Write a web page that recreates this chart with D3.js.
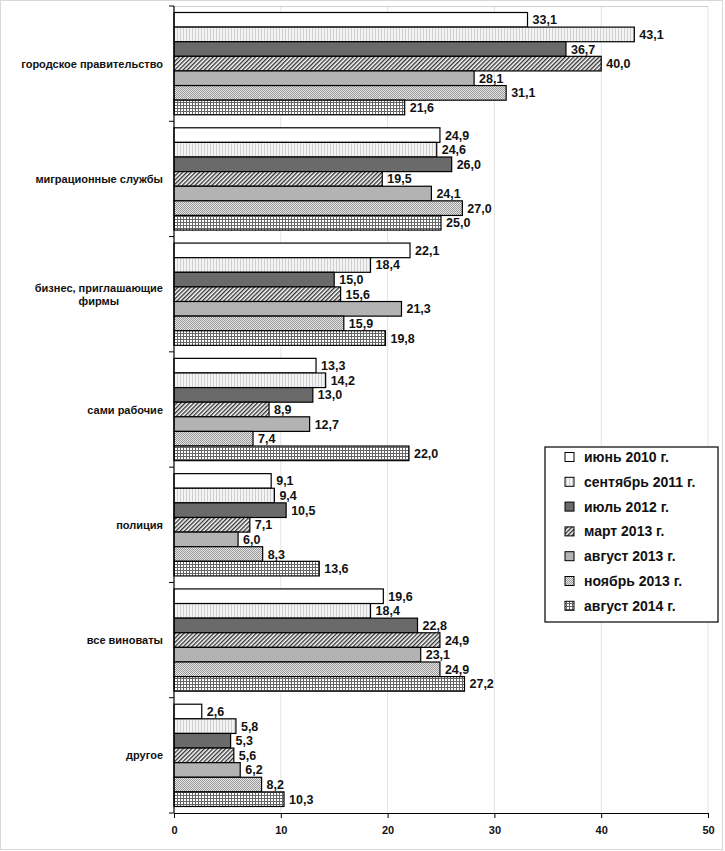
<!DOCTYPE html>
<html>
<head>
<meta charset="utf-8">
<script src="https://cdn.jsdelivr.net/npm/d3@7"></script>
<style>
  body { margin: 0; background: #fff; }
  text { font-family: "Liberation Sans", Arial, sans-serif; font-weight: bold; fill: #111; }
</style>
</head>
<body>
<div id="chart"></div>
<script>
// categories (top to bottom)
var categories = [
  ["городское правительство"],
  ["миграционные службы"],
  ["бизнес, приглашающие", "фирмы"],
  ["сами рабочие"],
  ["полиция"],
  ["все виноваты"],
  ["другое"]
];

var seriesNames = ["июнь 2010 г.", "сентябрь 2011 г.", "июль 2012 г.", "март 2013 г.",
                   "август 2013 г.", "ноябрь 2013 г.", "август 2014 г."];

var jun2010 = [33.1, 24.9, 22.1, 13.3, 9.1, 19.6, 2.6];
var sep2011 = [43.1, 24.6, 18.4, 14.2, 9.4, 18.4, 5.8];
var jul2012 = [36.7, 26.0, 15.0, 13.0, 10.5, 22.8, 5.3];
var mar2013 = [40.0, 19.5, 15.6, 8.9, 7.1, 24.9, 5.6];
var aug2013 = [28.1, 24.1, 21.3, 12.7, 6.0, 23.1, 6.2];
var nov2013 = [31.1, 27.0, 15.9, 7.4, 8.3, 24.9, 8.2];
var aug2014 = [21.6, 25.0, 19.8, 22.0, 13.6, 27.2, 10.3];

var xTicks = [0, 10, 20, 30, 40, 50];

var allSeries = [jun2010, sep2011, jul2012, mar2013, aug2013, nov2013, aug2014];

var svgWidth = 725;
var svgHeight = 851;

var margin = { top: 6, right: 16, bottom: 38, left: 174 };
var width = 708 - margin.left;
var height = 813 - margin.top;

var svg = d3.select("#chart")
  .append("svg")
  .attr("width", svgWidth)
  .attr("height", svgHeight);

// outer frame
svg.append("rect")
  .attr("x", 0.5).attr("y", 0.5)
  .attr("width", svgWidth - 3).attr("height", svgHeight - 2)
  .attr("fill", "#fff").attr("stroke", "#d8d8d8");

// Patterns //
var defs = svg.append("defs");

var p2 = defs.append("pattern").attr("id", "pat1")
  .attr("patternUnits", "userSpaceOnUse").attr("width", 3).attr("height", 3);
p2.append("rect").attr("width", 3).attr("height", 3).attr("fill", "#f4f4f4");
p2.append("rect").attr("width", 1).attr("height", 3).attr("fill", "#cfcfcf");

var p4 = defs.append("pattern").attr("id", "pat3")
  .attr("patternUnits", "userSpaceOnUse").attr("width", 3).attr("height", 3)
  .attr("patternTransform", "rotate(45)");
p4.append("rect").attr("width", 3).attr("height", 3).attr("fill", "#fff");
p4.append("rect").attr("width", 1.4).attr("height", 3).attr("fill", "#333");

var p6 = defs.append("pattern").attr("id", "pat5")
  .attr("patternUnits", "userSpaceOnUse").attr("width", 2).attr("height", 2);
p6.append("rect").attr("width", 2).attr("height", 2).attr("fill", "#e6e6e6");
p6.append("rect").attr("width", 1).attr("height", 1).attr("fill", "#999");
p6.append("rect").attr("x", 1).attr("y", 1).attr("width", 1).attr("height", 1).attr("fill", "#999");

var p7 = defs.append("pattern").attr("id", "pat6")
  .attr("patternUnits", "userSpaceOnUse").attr("width", 3).attr("height", 3);
p7.append("rect").attr("width", 3).attr("height", 3).attr("fill", "#fff");
p7.append("rect").attr("width", 3).attr("height", 1).attr("fill", "#666");
p7.append("rect").attr("width", 1).attr("height", 3).attr("fill", "#666");

var fills = ["#ffffff", "url(#pat1)", "#6a6a6a", "url(#pat3)", "#b3b3b3", "url(#pat5)", "url(#pat6)"];

var chartGroup = svg.append("g")
  .attr("transform", `translate(${margin.left}, ${margin.top})`);

// Scales //
var xScale = d3.scaleLinear().domain([0, 50]).range([0, width]);
var yScale = d3.scaleBand().domain(d3.range(categories.length)).range([0, height]);
var inner = d3.scaleBand().domain(d3.range(allSeries.length))
  .range([6.5, yScale.bandwidth() - 6.5]);

// gridlines + plot border
chartGroup.selectAll(".grid")
  .data(xTicks.slice(1))
  .enter().append("line")
  .attr("x1", d => xScale(d)).attr("x2", d => xScale(d))
  .attr("y1", 0).attr("y2", height)
  .attr("stroke", "#e4e4e4");
chartGroup.append("line")
  .attr("x1", 0).attr("x2", width).attr("y1", 0.5).attr("y2", 0.5)
  .attr("stroke", "#d0d0d0");

// Bars //
allSeries.forEach(function(vals, s) {
  var g = chartGroup.append("g");
  g.selectAll("rect")
    .data(vals)
    .enter().append("rect")
    .attr("x", 0)
    .attr("y", (d, i) => yScale(i) + inner(s))
    .attr("width", d => xScale(d))
    .attr("height", inner.bandwidth())
    .attr("fill", fills[s])
    .attr("stroke", "#000")
    .attr("stroke-width", 1.2);
  g.selectAll("text")
    .data(vals)
    .enter().append("text")
    .attr("x", d => xScale(d) + 5)
    .attr("y", (d, i) => yScale(i) + inner(s) + inner.bandwidth() / 2)
    .attr("dy", "0.36em")
    .attr("font-size", 12.5)
    .text(d => d.toFixed(1).replace(".", ","));
});

// Axes //
var bottomAxis = d3.axisBottom(xScale).tickValues(xTicks).tickSize(5).tickSizeOuter(0);
var xAxis = chartGroup.append("g")
  .attr("transform", `translate(0, ${height})`)
  .call(bottomAxis);
xAxis.select(".domain").attr("stroke", "#000").attr("stroke-width", 1.2);
xAxis.selectAll("text").attr("font-size", 11).attr("dy", "1.2em")
  .style("font-family", "Liberation Sans, Arial, sans-serif").style("font-weight", "bold");

// y axis line with category boundary ticks
chartGroup.append("line")
  .attr("x1", 0).attr("x2", 0).attr("y1", 0).attr("y2", height)
  .attr("stroke", "#000").attr("stroke-width", 1.2);
chartGroup.selectAll(".ytick")
  .data(d3.range(categories.length + 1))
  .enter().append("line")
  .attr("x1", -5).attr("x2", 0)
  .attr("y1", d => d * yScale.step()).attr("y2", d => d * yScale.step())
  .attr("stroke", "#000");

// Category labels //
categories.forEach(function(lines, i) {
  var cy = yScale(i) + yScale.bandwidth() / 2;
  var t = svg.append("text")
    .attr("font-size", 11)
    .attr("text-anchor", "middle");
  lines.forEach(function(line, k) {
    t.append("tspan").text(line);
  });
  var maxW = 0;
  t.selectAll("tspan").each(function() { maxW = Math.max(maxW, this.getComputedTextLength()); });
  var cx = margin.left - 11 - maxW / 2;
  var lh = 13;
  t.selectAll("tspan")
    .attr("x", cx)
    .attr("y", (d, k) => margin.top + cy + (k - (lines.length - 1) / 2) * lh + 4);
});

// Legend //
var legend = svg.append("g").attr("transform", "translate(545, 447)");
legend.append("rect")
  .attr("width", 173).attr("height", 175)
  .attr("fill", "#fff").attr("stroke", "#000").attr("stroke-width", 1.2);
seriesNames.forEach(function(name, s) {
  var y = 10 + s * 24.8;
  legend.append("rect")
    .attr("x", 20).attr("y", y - 4.5)
    .attr("width", 9).attr("height", 9)
    .attr("fill", fills[s]).attr("stroke", "#000");
  legend.append("text")
    .attr("x", 39).attr("y", y)
    .attr("dy", "0.36em")
    .attr("font-size", 14)
    .text(name);
});
</script>
</body>
</html>
